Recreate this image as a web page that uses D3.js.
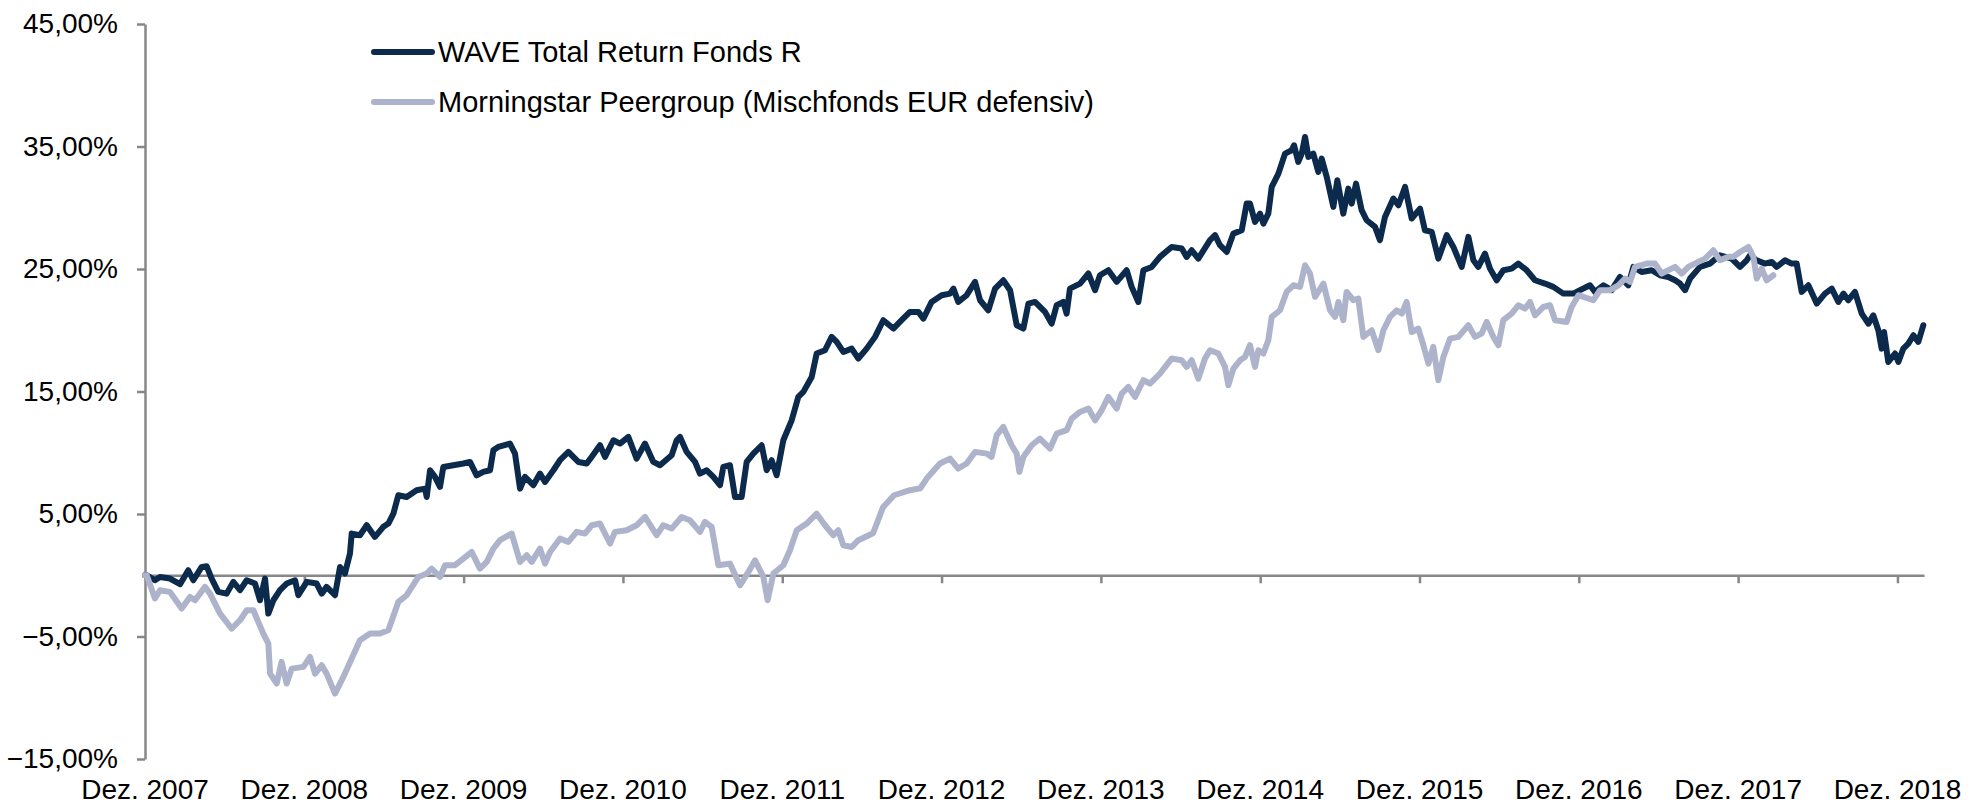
<!DOCTYPE html>
<html lang="de">

<head>
  <meta charset="UTF-8" />
  <title>WAVE Total Return Fonds R vs. Peergroup</title>
  <script src="https://d3js.org/d3.v7.min.js"></script>
  <style>
    body {
      margin: 0;
      background: #fff;
      font-family: "Liberation Sans", Arial, sans-serif;
    }

    .axis path,
    .axis line {
      stroke: #878787;
      stroke-width: 2.5;
    }

    .axis text,
    .xlabel {
      font-family: "Liberation Sans", Arial, sans-serif;
      font-size: 28px;
      fill: #000;
    }

    .legend text {
      font-family: "Liberation Sans", Arial, sans-serif;
      font-size: 29px;
      fill: #000;
    }

    .series {
      fill: none;
      stroke-width: 6;
      stroke-linejoin: round;
      stroke-linecap: round;
    }
  </style>
</head>

<body>
  <svg width="1968" height="807"></svg>

  <script>
    // x = months since Dez. 2007, y = performance in %
    const xTickMonths = [0, 12, 24, 36, 48, 60, 72, 84, 96, 108, 120, 132];
    const xTickLabels = ["Dez. 2007", "Dez. 2008", "Dez. 2009", "Dez. 2010", "Dez. 2011", "Dez. 2012",
      "Dez. 2013", "Dez. 2014", "Dez. 2015", "Dez. 2016", "Dez. 2017", "Dez. 2018"];
    const yTicks = [-15, -5, 5, 15, 25, 35, 45];

    const seriesNames = ["WAVE Total Return Fonds R", "Morningstar Peergroup (Mischfonds EUR defensiv)"];
    const seriesColors = ["#0c2a4c", "#adb3cb"];

    const waveData = [
      [0, 0], [0.13, 0], [0.75, -0.41], [1.13, -0.14], [1.88, -0.27], [2.64, -0.73], [3.26, 0.41], [3.64, -0.41],
      [4.27, 0.68], [4.65, 0.73], [5.02, -0.27], [5.52, -1.36], [6.15, -1.5], [6.65, -0.54], [7.16, -1.22],
      [7.66, -0.41], [8.29, -0.68], [8.66, -2.04], [9.04, -0.27], [9.29, -3.13], [9.67, -2.04], [10.17, -1.22],
      [10.67, -0.68], [11.3, -0.41], [11.55, -1.63], [12.18, -0.54], [12.93, -0.68], [13.31, -1.5], [13.68, -0.95],
      [14.31, -1.63], [14.69, 0.68], [15.06, 0.14], [15.44, 1.77], [15.57, 3.4], [16.19, 3.27], [16.7, 4.08],
      [17.32, 3.13], [17.95, 3.95], [18.33, 4.22], [18.71, 5.03], [19.08, 6.53], [19.71, 6.39], [20.46, 6.94],
      [21.09, 7.07], [21.22, 6.39], [21.47, 8.57], [21.84, 8.03], [22.22, 7.21], [22.47, 8.84], [23.22, 8.98],
      [23.98, 9.12], [24.48, 9.25], [24.98, 8.16], [25.48, 8.44], [25.99, 8.57], [26.24, 10.2], [26.61, 10.48],
      [27.49, 10.75], [27.87, 9.93], [28.25, 7.07], [28.62, 8.03], [29.25, 7.35], [29.75, 8.3], [30.13, 7.62],
      [30.76, 8.57], [31.26, 9.39], [31.89, 10.07], [32.64, 9.25], [33.27, 9.12], [33.64, 9.66], [34.27, 10.61],
      [34.65, 9.66], [35.28, 11.02], [35.78, 10.75], [36.41, 11.29], [37.03, 9.52], [37.66, 10.75], [38.29, 9.25],
      [38.79, 8.98], [39.67, 9.8], [40.05, 11.02], [40.3, 11.29], [40.8, 10.07], [41.43, 9.25], [41.8, 8.3],
      [42.31, 8.57], [42.81, 8.03], [43.31, 7.35], [43.56, 8.84], [44.06, 8.98], [44.44, 6.39], [44.94, 6.39],
      [45.32, 9.25], [45.82, 9.93], [46.45, 10.61], [46.83, 8.57], [47.2, 9.39], [47.58, 8.16], [48.08, 11.02],
      [48.71, 12.65], [49.21, 14.56], [49.59, 14.97], [50.22, 16.19], [50.59, 18.1], [51.22, 18.37], [51.72, 19.46],
      [52.1, 19.05], [52.6, 18.23], [53.23, 18.5], [53.73, 17.69], [54.36, 18.5], [54.99, 19.46], [55.61, 20.82],
      [56.37, 20.14], [56.99, 20.82], [57.62, 21.5], [58.25, 21.5], [58.63, 20.95], [59.25, 22.31], [60.01, 22.86],
      [60.64, 22.99], [60.89, 23.4], [61.26, 22.31], [61.89, 22.86], [62.52, 23.95], [62.9, 22.45], [63.52, 21.63],
      [64.03, 23.4], [64.65, 24.08], [65.16, 23.27], [65.66, 20.41], [66.16, 20.14], [66.54, 22.18], [67.04, 22.31],
      [67.79, 21.5], [68.29, 20.54], [68.67, 22.04], [69.17, 22.31], [69.42, 21.36], [69.67, 23.4], [70.43, 23.81],
      [71.06, 24.63], [71.56, 23.27], [71.93, 24.49], [72.56, 24.9], [73.19, 23.95], [73.94, 24.9], [74.32, 23.54],
      [74.82, 22.31], [75.2, 24.9], [75.83, 25.17], [76.45, 25.99], [77.33, 26.8], [78.09, 26.67], [78.46, 25.99],
      [78.84, 26.53], [79.34, 25.85], [80.22, 27.35], [80.6, 27.76], [80.97, 26.94], [81.48, 26.39], [81.98, 27.89],
      [82.61, 28.16], [82.98, 30.34], [83.23, 30.34], [83.61, 28.84], [83.99, 29.52], [84.24, 28.71], [84.61, 29.52],
      [84.87, 31.7], [85.37, 32.79], [85.87, 34.42], [86.37, 34.69], [86.55, 35.1], [86.87, 33.74], [87.13, 34.42],
      [87.38, 35.78], [87.63, 34.15], [88.0, 34.42], [88.38, 32.93], [88.63, 34.01], [89.01, 32.52], [89.51, 30.07],
      [89.81, 32.24], [90.26, 29.52], [90.64, 31.56], [90.89, 30.34], [91.22, 31.97], [91.64, 29.8], [92.02, 28.98],
      [92.65, 28.44], [93.02, 27.35], [93.4, 29.25], [94.03, 30.75], [94.41, 30.2], [94.91, 31.7], [95.41, 29.12],
      [96.04, 29.93], [96.41, 28.16], [96.92, 28.03], [97.42, 25.85], [98.05, 27.76], [98.55, 26.8], [99.18, 25.17],
      [99.68, 27.62], [100.06, 25.71], [100.43, 25.17], [100.93, 26.26], [101.31, 25.03], [101.81, 24.08],
      [102.31, 24.9], [102.94, 25.03], [103.44, 25.44], [104.07, 24.9], [104.7, 24.08], [105.45, 23.81],
      [106.08, 23.54], [106.83, 22.99], [107.59, 22.99], [108.09, 23.27], [108.84, 23.67], [109.22, 23.13],
      [109.85, 23.67], [110.47, 23.27], [111.1, 24.35], [111.73, 23.67], [112.11, 25.17], [112.73, 24.76],
      [113.49, 24.9], [114.12, 24.49], [114.74, 24.35], [115.25, 24.08], [115.62, 23.81], [116.0, 23.27],
      [116.38, 24.22], [117.13, 25.17], [117.88, 25.44], [118.63, 26.12], [119.51, 25.85], [120.14, 25.17],
      [120.64, 25.71], [120.89, 26.12], [121.4, 25.71], [122.02, 25.44], [122.53, 25.58], [122.9, 25.17],
      [123.53, 25.71], [124.03, 25.44], [124.41, 25.44], [124.79, 23.13], [125.29, 23.67], [125.92, 22.18],
      [126.54, 22.99], [127.05, 23.4], [127.55, 22.31], [127.93, 22.99], [128.3, 22.45], [128.8, 23.13],
      [129.31, 21.36], [129.81, 20.54], [130.18, 21.22], [130.56, 20.0], [130.81, 18.5], [130.99, 19.86],
      [131.31, 17.41], [131.82, 18.1], [132.07, 17.41], [132.44, 18.5], [132.82, 18.91], [133.2, 19.59],
      [133.57, 19.05], [133.95, 20.41]
    ];

    const peerData = [
      [0, 0], [0.13, 0], [0.75, -1.9], [1.13, -1.22], [1.88, -1.36], [2.76, -2.72], [3.39, -1.77], [3.77, -2.04],
      [4.52, -0.95], [4.9, -1.5], [5.65, -3.13], [6.53, -4.35], [7.16, -3.67], [7.66, -2.86], [8.16, -2.86],
      [8.91, -4.76], [9.29, -5.58], [9.42, -8.03], [9.92, -8.84], [10.29, -7.07], [10.67, -8.84], [11.05, -7.62],
      [11.93, -7.48], [12.43, -6.67], [12.81, -8.03], [13.31, -7.35], [13.68, -8.03], [14.31, -9.66], [14.94, -8.3],
      [15.57, -6.8], [16.19, -5.31], [16.95, -4.76], [17.7, -4.76], [18.33, -4.49], [19.08, -2.18], [19.71, -1.63],
      [20.59, -0.14], [21.22, 0.14], [21.59, 0.54], [22.22, -0.14], [22.6, 0.82], [23.35, 0.82], [23.98, 1.36],
      [24.61, 1.9], [25.23, 0.54], [25.74, 1.09], [26.24, 2.18], [26.74, 2.86], [27.62, 3.4], [28.25, 1.09],
      [28.75, 1.63], [29.13, 1.09], [29.75, 2.18], [30.13, 0.95], [30.51, 1.9], [31.26, 2.99], [31.89, 2.72],
      [32.51, 3.54], [33.14, 3.4], [33.64, 4.08], [34.27, 4.22], [35.03, 2.59], [35.4, 3.54], [36.28, 3.67],
      [37.03, 4.08], [37.66, 4.76], [38.54, 3.27], [39.04, 4.08], [39.67, 3.81], [40.42, 4.76], [41.05, 4.49],
      [41.8, 3.54], [42.18, 4.35], [42.68, 3.95], [43.19, 0.82], [44.06, 0.95], [44.82, -0.82], [45.45, 0.27],
      [45.95, 1.22], [46.58, -0.14], [46.9, -2.04], [47.33, 0.14], [48.08, 0.82], [48.58, 2.04], [49.09, 3.67],
      [49.84, 4.22], [50.59, 5.03], [51.22, 4.08], [51.85, 3.27], [52.22, 3.67], [52.6, 2.45], [53.23, 2.31],
      [53.73, 2.86], [54.84, 3.43], [55.59, 5.55], [56.42, 6.53], [57.62, 6.94], [58.4, 7.1], [58.88, 7.89],
      [59.88, 9.12], [60.64, 9.52], [61.26, 8.71], [61.89, 9.12], [62.52, 10.07], [63.4, 9.93], [63.77, 9.66],
      [64.15, 11.43], [64.65, 12.11], [65.28, 10.61], [65.66, 9.93], [65.86, 8.44], [66.16, 9.66], [66.79, 10.61],
      [67.41, 11.16], [68.17, 10.34], [68.67, 11.56], [69.42, 11.84], [69.8, 12.79], [70.43, 13.33], [71.06, 13.61],
      [71.56, 12.65], [72.06, 13.47], [72.56, 14.56], [73.19, 13.61], [73.57, 14.83], [74.07, 15.37], [74.57, 14.56],
      [75.2, 15.92], [75.7, 15.65], [76.45, 16.46], [77.33, 17.69], [78.09, 17.55], [78.46, 17.01], [78.84, 17.55],
      [79.34, 16.05], [79.84, 17.69], [80.22, 18.37], [80.85, 18.1], [81.35, 17.01], [81.6, 15.51], [81.98, 16.87],
      [82.48, 17.55], [82.86, 17.82], [83.23, 18.78], [83.61, 17.01], [83.86, 18.37], [84.24, 18.1], [84.61, 19.18],
      [84.87, 21.09], [85.49, 21.63], [85.99, 23.13], [86.5, 23.67], [87.0, 23.54], [87.38, 25.31], [87.75, 24.63],
      [88.13, 22.72], [88.76, 23.81], [89.26, 21.63], [89.64, 21.09], [89.89, 22.31], [90.26, 20.82], [90.51, 23.13],
      [91.02, 22.45], [91.39, 22.59], [91.77, 19.46], [92.4, 20.0], [92.9, 18.37], [93.28, 20.0], [93.78, 21.09],
      [94.28, 21.63], [94.66, 21.36], [95.03, 22.31], [95.41, 19.86], [95.91, 20.14], [96.29, 18.78], [96.67, 17.28],
      [97.04, 18.64], [97.42, 15.92], [97.8, 17.82], [98.3, 19.32], [98.93, 19.46], [99.68, 20.41], [100.18, 19.46],
      [100.68, 19.73], [101.06, 20.68], [101.56, 19.46], [101.94, 18.78], [102.31, 20.82], [102.94, 21.36],
      [103.44, 22.04], [103.95, 21.77], [104.32, 22.31], [104.7, 21.22], [105.33, 21.9], [105.83, 22.04],
      [106.21, 20.82], [107.08, 20.68], [107.46, 21.9], [107.97, 22.86], [109.09, 22.45], [109.6, 23.27],
      [110.35, 23.27], [110.98, 23.67], [111.48, 24.22], [111.86, 23.95], [112.23, 25.17], [113.11, 25.44],
      [113.74, 25.44], [114.24, 24.63], [115.25, 25.17], [115.75, 24.63], [116.25, 25.17], [117.0, 25.58],
      [117.51, 25.85], [118.13, 26.53], [118.63, 25.71], [119.26, 25.99], [119.64, 25.99], [120.14, 26.39],
      [120.77, 26.8], [121.15, 25.99], [121.4, 24.22], [121.77, 25.03], [122.15, 24.08], [122.65, 24.49]
    ];

    const svg = d3.select("svg");

    const x = d3.scaleLinear().domain([0, 134]).range([145, 1924]);
    const y = d3.scaleLinear().domain([-15, 45]).range([759, 24]);

    const de = d3.formatLocale({ decimal: ",", thousands: ".", grouping: [3], currency: ["", " €"] });
    const pct = d => de.format(".2f")(d) + "%";

    // y axis
    svg.append("g")
      .attr("class", "axis")
      .attr("transform", `translate(${x(0)},0)`)
      .call(d3.axisLeft(y).tickValues(yTicks).tickFormat(pct).tickSize(8).tickSizeOuter(0).tickPadding(19));

    // zero line with year ticks
    svg.append("g")
      .attr("class", "axis")
      .attr("transform", `translate(0,${y(0)})`)
      .call(d3.axisBottom(x).tickValues(xTickMonths.slice(1)).tickFormat("").tickSize(8).tickSizeOuter(0));

    // category labels sit at the bottom of the plot
    svg.append("g")
      .selectAll("text")
      .data(xTickMonths)
      .join("text")
      .attr("class", "xlabel")
      .attr("x", d => x(d))
      .attr("y", 799)
      .attr("text-anchor", "middle")
      .text((d, i) => xTickLabels[i]);

    const line = d3.line().x(d => x(d[0])).y(d => y(d[1]));

    [waveData, peerData].forEach((data, i) => {
      svg.append("path")
        .datum(data)
        .attr("class", "series")
        .attr("stroke", seriesColors[i])
        .attr("d", line);
    });

    // legend
    const legend = svg.append("g").attr("class", "legend");
    seriesNames.forEach((name, i) => {
      const g = legend.append("g").attr("transform", `translate(374, ${52 + i * 50})`);
      g.append("line")
        .attr("x1", 0).attr("x2", 58)
        .attr("stroke", seriesColors[i])
        .attr("stroke-width", 6)
        .attr("stroke-linecap", "round");
      g.append("text")
        .attr("x", 64)
        .attr("y", 10)
        .text(name);
    });
  </script>
</body>

</html>
